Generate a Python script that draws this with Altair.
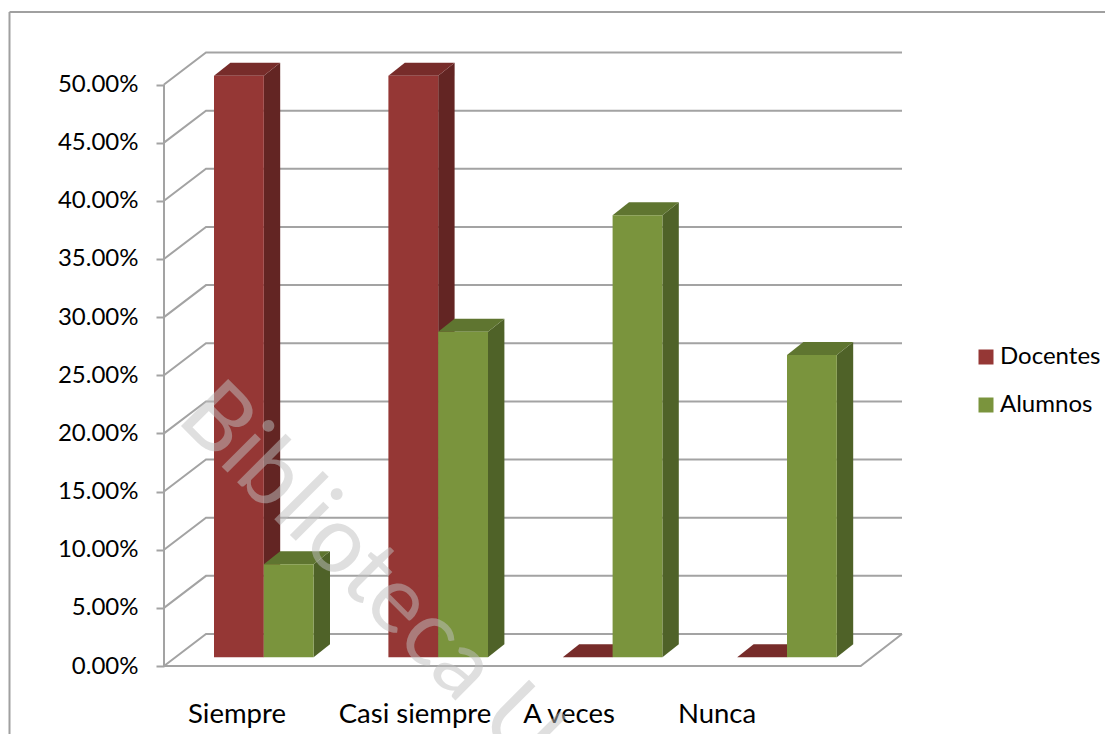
import altair as alt
import pandas as pd

categories = ["Siempre", "Casi siempre", "A veces", "Nunca"]
docentes = [0.50, 0.50, 0.0, 0.0]
alumnos = [0.08, 0.28, 0.38, 0.26]
y_ticks = [0, .05, .10, .15, .20, .25, .30, .35, .40, .45, .50]

# ---- layout (page pixels, converted to scale units below)
PX_PER_SLOT = 174.4
PX_PER_UNIT = 1163.0          # pixels per 100 %
LEFT0 = 214.0                 # first bar left edge
ZERO_Y = 666.0
W, H = 1097, 726
def sx(px): return (px - LEFT0) / PX_PER_SLOT
def sy(py): return (ZERO_Y - py) / PX_PER_UNIT

BAR_W = 49.8 / PX_PER_SLOT
DEPTH_X = 16.4 / PX_PER_SLOT
DEPTH_Y = 13.0 / PX_PER_UNIT
BASE = sy(657.3)
WALL_X0, WALL_X1 = sx(206), sx(902)
FRONT_X0, FRONT_X1 = sx(164), sx(860.7)
WALL_DY = 32.0 / PX_PER_UNIT
GRID = "#a3a3a3"

x_scale = alt.Scale(domain=[sx(8), sx(8 + W)], nice=False, zero=False)
y_scale = alt.Scale(domain=[sy(8 + H), sy(8)], nice=False, zero=False)
X = alt.X("x:Q", scale=x_scale, axis=None)
y_axis = alt.Axis(
    values=y_ticks, format=".2%", offset=-(164 - 8), grid=False, domain=False,
    tickColor=GRID, tickWidth=2, tickSize=8, labelPadding=18,
    labelFont="Lato", labelFontSize=24, labelColor="#000000", title=None)
Y = alt.Y("y:Q", scale=y_scale, axis=y_axis)
COLORS = {"Docentes": ("#953735", "#632523", "#772c2a"),
          "Alumnos": ("#7a943d", "#4f6228", "#5f7530")}
series = {"Docentes": docentes, "Alumnos": alumnos}

front, side, top = [], [], []
for s_i, (name, vals) in enumerate(series.items()):
    for c_i, (cat, v) in enumerate(zip(categories, vals)):
        l = c_i + s_i * BAR_W
        r = l + BAR_W
        h = BASE + v
        front.append(dict(x=l, x2=r, y=BASE, y2=h, serie=name, cat=cat))
        key = f"{name}-{cat}"
        side += [dict(x=r, y=BASE, y2=h, key=key, serie=name),
                 dict(x=r + DEPTH_X, y=BASE + DEPTH_Y, y2=h + DEPTH_Y, key=key, serie=name)]
        top += [dict(x=l, y=h, y2=h, key=key, serie=name),
                dict(x=l + DEPTH_X, y=h, y2=h + DEPTH_Y, key=key, serie=name),
                dict(x=r, y=h, y2=h + DEPTH_Y, key=key, serie=name),
                dict(x=r + DEPTH_X, y=h + DEPTH_Y, y2=h + DEPTH_Y, key=key, serie=name)]

# ---- walls
lines = []
for i, t in enumerate(y_ticks):
    lines += [dict(x=FRONT_X0, y=t, k=f"d{i}"),
              dict(x=WALL_X0, y=t + WALL_DY, k=f"d{i}"),
              dict(x=WALL_X1, y=t + WALL_DY, k=f"d{i}")]
lines += [dict(x=FRONT_X0, y=0, k="axis"), dict(x=FRONT_X0, y=.5, k="axis"),
          dict(x=FRONT_X0, y=0, k="floor"), dict(x=FRONT_X1, y=0, k="floor"),
          dict(x=WALL_X1, y=WALL_DY, k="floor")]
for i, row in enumerate(lines):
    row["idx"] = i

walls = alt.Chart(pd.DataFrame(lines)).mark_line(color=GRID, strokeWidth=2).encode(
    x=X, y=Y, detail="k:N", order=alt.Order("idx:Q"))

def faces(rows, shade):
    layers = []
    for name in series:
        part = [r for r in rows if r["serie"] == name]
        layers.append(alt.Chart(pd.DataFrame(part)).mark_area(
            color=COLORS[name][shade], interpolate="linear", line=False).encode(
            x=X, y=Y, y2="y2:Q", detail="key:N"))
    return layers

color_enc = alt.Color("serie:N", scale=alt.Scale(domain=list(series),
    range=[COLORS[n][0] for n in series]),
    legend=alt.Legend(orient="none", legendX=979 - 8 - 5, legendY=349 - 8 - 4, title=None,
                      symbolType="square", symbolSize=225, symbolStrokeWidth=0,
                      symbolOpacity=1, labelFont="Lato", labelFontSize=24,
                      labelColor="#000000", rowPadding=24, labelOffset=2))

def fronts(name):
    return alt.Chart(pd.DataFrame([r for r in front if r["serie"] == name])).mark_rect().encode(
        x=X, x2="x2:Q", y=Y, y2="y2:Q", color=color_enc)

s_f, t_f = faces(side, 1), faces(top, 2)
bars = [s_f[0], t_f[0], fronts("Docentes"), s_f[1], t_f[1], fronts("Alumnos")]

# ---- category labels
label_centres = [237, 415, 569, 717]
labels = alt.Chart(pd.DataFrame({"x": [sx(p) for p in label_centres], "t": categories})).mark_text(
    font="Lato", fontSize=27.5, color="#000000", align="center", baseline="middle").encode(
    x=X, y=alt.value(715 - 8), text="t:N")

# ---- outer frame
FRAME = "#a0a0a0"
frame_top = alt.Chart(pd.DataFrame({"a": [0]})).mark_rule(color=FRAME, strokeWidth=2).encode(
    x=alt.value(1.5), x2=alt.value(W), y=alt.value(4))
frame_left = alt.Chart(pd.DataFrame({"a": [0]})).mark_rule(color=FRAME, strokeWidth=2).encode(
    x=alt.value(1.5), y=alt.value(4), y2=alt.value(H))

# ---- watermark
mark_text = alt.Chart(pd.DataFrame({"t": ["Biblioteca U"]})).mark_text(
    font="Lato", fontSize=93, color="#c0c0c0", opacity=0.5, angle=45,
    align="left", baseline="alphabetic").encode(
    x=alt.value(175 - 8), y=alt.value(420 - 8), text="t:N")

chart = alt.layer(frame_top, frame_left, walls, *bars, labels, mark_text).properties(
    width=W, height=H, padding=0, autosize=alt.AutoSizeParams(type="none")
).configure_view(stroke=None).resolve_scale(color="shared")

chart.save("out.html", embed_options={"renderer": "svg", "actions": False})
